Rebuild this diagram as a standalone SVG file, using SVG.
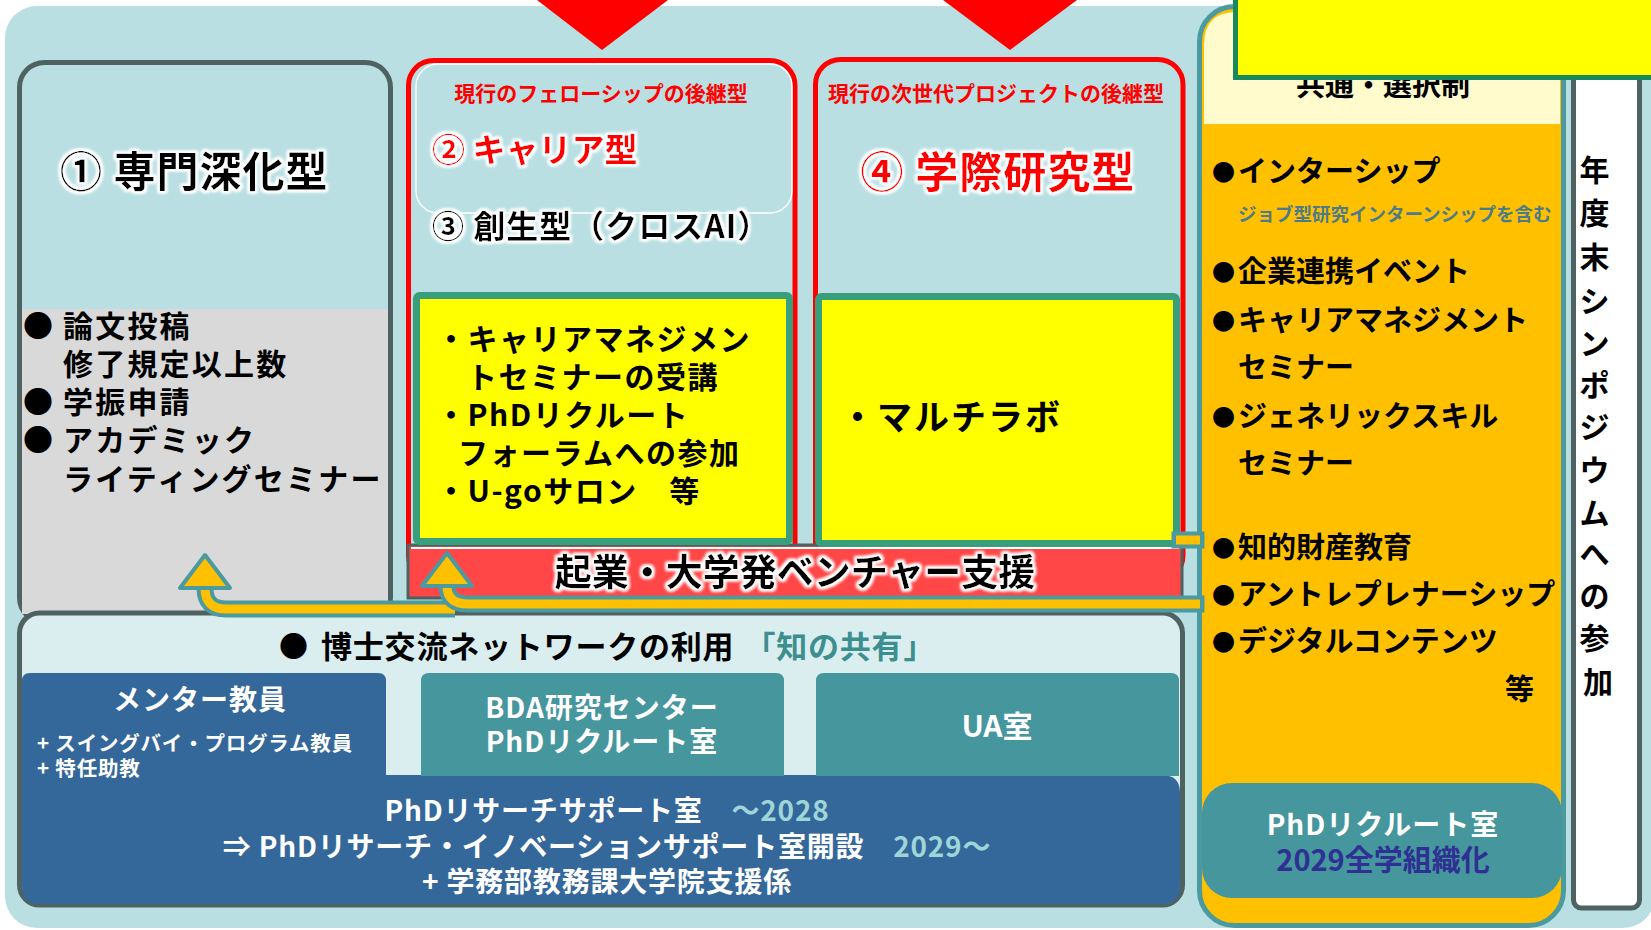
<svg xmlns="http://www.w3.org/2000/svg" width="1651" height="930" viewBox="0 0 1651 930">
<defs>
<style>
text{font-family:'Noto Sans CJK JP','Noto Sans CJK SC',sans-serif;font-weight:700;}
.blk{fill:#000}
.wht{fill:#fff}
.red{fill:#FF0000}
.frame{fill:#B9DFE2;stroke:#4E6262;stroke-width:5}
.redframe{fill:#B9DFE2;stroke:#FF0000;stroke-width:5}
.ybox{fill:#FFFF00;stroke:#389E7C;stroke-width:7}
.sh-o{fill:none;stroke:#4A9AA0;stroke-width:17;stroke-linejoin:round}
.sh-i{fill:none;stroke:#FFC000;stroke-width:9;stroke-linejoin:round}
.head{fill:#FFC000;stroke:#4A9AA0;stroke-width:4;stroke-linejoin:round}
.tri{fill:#FF0000}
</style>
<filter id="glow" x="-10%" y="-40%" width="120%" height="180%">
<feMorphology in="SourceAlpha" operator="dilate" radius="2" result="d"/>
<feGaussianBlur in="d" stdDeviation="1.6" result="b"/>
<feFlood flood-color="#ffffff"/>
<feComposite in2="b" operator="in" result="g"/>
<feMerge><feMergeNode in="g"/><feMergeNode in="g"/><feMergeNode in="SourceGraphic"/></feMerge>
</filter>
</defs>
<rect width="1651" height="930" fill="#fff"/>
<rect id="background" x="5" y="6" width="1650" height="922" rx="32" fill="#B9DFE2"/>

<g id="box1">
<rect class="frame" x="19.5" y="62.5" width="371" height="560" rx="25"/>
<rect x="22" y="309" width="366" height="305" fill="#D9D9D9"/>
<text x="60" y="187" font-size="42" class="blk" filter="url(#glow)" letter-spacing="1">① 専門深化型</text>
<g font-size="30" class="blk" letter-spacing="2.2">
<text x="23" y="337" letter-spacing="0">●</text><text x="63" y="337">論文投稿</text>
<text x="63" y="375">修了規定以上数</text>
<text x="23" y="413" letter-spacing="0">●</text><text x="63" y="413">学振申請</text>
<text x="23" y="451" letter-spacing="0">●</text><text x="63" y="451">アカデミック</text>
<text x="63" y="490">ライティングセミナー</text>
</g>
</g>

<g id="box2">
<rect class="redframe" x="408.5" y="60.5" width="386.5" height="520" rx="25"/>
<rect x="416" y="64" width="376" height="149" rx="22" fill="none" stroke="#fff" stroke-width="1.3"/>
<text x="601" y="101" font-size="21" class="red" text-anchor="middle">現行のフェローシップの後継型</text>
<text x="432" y="162" font-size="33" class="red" filter="url(#glow)">② キャリア型</text>
<text x="432" y="238" font-size="32" class="blk" filter="url(#glow)" letter-spacing="1">③ 創生型（クロスAI）</text>
</g>

<g id="box4">
<rect class="redframe" x="815.5" y="59.5" width="367.5" height="521" rx="25"/>
<text x="996" y="101" font-size="21" class="red" text-anchor="middle">現行の次世代プロジェクトの後継型</text>
<text x="998" y="188" font-size="43" class="red" text-anchor="middle" filter="url(#glow)" letter-spacing="1">④ 学際研究型</text>
</g>

<g id="venture">
<rect x="408" y="545" width="774" height="53" fill="#FF4747" stroke="#4E6262" stroke-width="3"/>
<line x1="411" y1="548" x2="1179" y2="548" stroke="#fff" stroke-width="2"/>
<text x="795" y="586" font-size="37" class="blk" text-anchor="middle" filter="url(#glow)">起業・大学発ベンチャー支援</text>
</g>

<g id="career-box">
<rect class="ybox" x="416.5" y="295.5" width="373" height="246" rx="3"/>
<g font-size="30" class="blk" letter-spacing="1.5">
<text x="436" y="350">・キャリアマネジメン</text>
<text x="467" y="388">トセミナーの受講</text>
<text x="436" y="426">・PhDリクルート</text>
<text x="458" y="464">フォーラムへの参加</text>
<text x="436" y="502">・U-goサロン　等</text>
</g>
</g>

<g id="multilab-box">
<rect class="ybox" x="818.5" y="296.5" width="358" height="247" rx="3"/>
<text x="840" y="430" font-size="35" class="blk" letter-spacing="2">・マルチラボ</text>
</g>

<g id="network">
<rect x="19.5" y="613" width="1163" height="292" rx="20" fill="#DAEEF0" stroke="#4E6262" stroke-width="5"/>
<text x="279" y="657" font-size="29" class="blk">●</text>
<text x="321" y="658" font-size="31" class="blk" letter-spacing="0.8">博士交流ネットワークの利用<tspan dx="10" fill="#3D8F8F">「知の共有」</tspan></text>
</g>

<g id="support-office">
<path d="M22 775 H1162 Q1180 775 1180 793 V886 Q1180 904 1162 904 H40 Q22 904 22 886 Z" fill="#34679A"/>
<g font-size="28" class="wht" text-anchor="middle" letter-spacing="0.8">
<text x="607" y="821">PhDリサーチサポート室　<tspan fill="#9ED5D8">～2028</tspan></text>
<text x="607" y="857">⇒ PhDリサーチ・イノベーションサポート室開設　<tspan fill="#9ED5D8">2029～</tspan></text>
<text x="607" y="892">+ 学務部教務課大学院支援係</text>
</g>
</g>

<g id="mentor">
<path d="M22 781 V681 Q22 673 30 673 H378 Q386 673 386 681 V781 Z" fill="#34679A"/>
<text x="200" y="710" font-size="28" class="wht" text-anchor="middle" letter-spacing="1">メンター教員</text>
<text x="37" y="751" font-size="20.5" class="wht" letter-spacing="0.8">+ スイングバイ・プログラム教員</text>
<text x="37" y="776" font-size="20.5" class="wht" letter-spacing="0.8">+ 特任助教</text>
</g>

<g id="bda">
<path d="M421 776 V681 Q421 673 429 673 H776 Q784 673 784 681 V776 Z" fill="#46969E"/>
<text x="602" y="718" font-size="28" class="wht" text-anchor="middle" letter-spacing="1">BDA研究センター</text>
<text x="602" y="752" font-size="28" class="wht" text-anchor="middle" letter-spacing="1">PhDリクルート室</text>
</g>

<g id="ua">
<path d="M816 776 V681 Q816 673 824 673 H1171 Q1179 673 1179 681 V776 Z" fill="#46969E"/>
<text x="997" y="737" font-size="30" class="wht" text-anchor="middle">UA室</text>
</g>

<g id="common-column">
<rect x="1199.5" y="6.5" width="364" height="919" rx="35" fill="#FFC000" stroke="#4A9AA0" stroke-width="5"/>
<path d="M1204 124 V45 Q1204 12 1237 12 H1560 V124 Z" fill="#FFFBCC"/>
<text x="1383" y="96" font-size="29" class="blk" text-anchor="middle">共通・選択制</text>
<g class="blk">
<text x="1212" y="181" font-size="23">●</text><text x="1238" y="182" font-size="29">インターシップ</text>
<text x="1238" y="221" font-size="18.5" fill="#4D7B88">ジョブ型研究インターンシップを含む</text>
<text x="1212" y="281" font-size="23">●</text><text x="1238" y="282" font-size="29">企業連携イベント</text>
<text x="1212" y="330" font-size="23">●</text><text x="1238" y="331" font-size="29">キャリアマネジメント</text>
<text x="1238" y="378" font-size="29">セミナー</text>
<text x="1212" y="426" font-size="23">●</text><text x="1238" y="427" font-size="29">ジェネリックスキル</text>
<text x="1238" y="474" font-size="29">セミナー</text>
<text x="1212" y="557" font-size="23">●</text><text x="1238" y="558" font-size="29">知的財産教育</text>
<text x="1212" y="604" font-size="23">●</text><text x="1238" y="605" font-size="29">アントレプレナーシップ</text>
<text x="1212" y="651" font-size="23">●</text><text x="1238" y="652" font-size="29">デジタルコンテンツ</text>
<text x="1534" y="700" font-size="29" text-anchor="end">等</text>
</g>
</g>

<g id="recruit-office">
<rect x="1202" y="783" width="360" height="115" rx="30" fill="#46969E"/>
<text x="1383" y="835" font-size="28" class="wht" text-anchor="middle" letter-spacing="1">PhDリクルート室</text>
<text x="1383" y="871" font-size="29" fill="#2E3192" text-anchor="middle">2029全学組織化</text>
</g>

<g id="symposium">
<rect x="1573.5" y="60" width="66" height="848" rx="8" fill="#fff" stroke="#4E6262" stroke-width="5"/>
<text font-size="30" class="blk" text-anchor="middle">
<tspan x="1598" y="181">年</tspan>
<tspan x="1598" y="224">度</tspan>
<tspan x="1598" y="268">末</tspan>
<tspan x="1598" y="312">シ</tspan>
<tspan x="1598" y="354">ン</tspan>
<tspan x="1598" y="396">ポ</tspan>
<tspan x="1598" y="438">ジ</tspan>
<tspan x="1598" y="481">ウ</tspan>
<tspan x="1598" y="524">ム</tspan>
<tspan x="1598" y="565">へ</tspan>
<tspan x="1598" y="607">の</tspan>
<tspan x="1598" y="649">参</tspan>
<tspan x="1598" y="693">加</tspan>
</text>
</g>

<g id="banner-top-right">
<rect x="1235.5" y="-10" width="430" height="87.5" fill="#FFFF00" stroke="#17895A" stroke-width="5"/>
</g>

<g id="connectors">
<polygon class="tri" points="537,0 668,0 602,50"/>
<polygon class="tri" points="943,0 1077,0 1010,50"/>
<path class="sh-o" d="M455 609 H226 Q205 609 205 588" stroke-linecap="butt"/>
<path class="sh-i" d="M455 609 H226 Q205 609 205 588"/>
<polygon class="head" points="205,555 230,588 180,588"/>
<path class="sh-o" d="M1196 604 H468 Q447 604 447 586" stroke-linecap="square"/>
<path class="sh-i" d="M1200 604 H468 Q447 604 447 586"/>
<polygon class="head" points="447,553 472,586 422,586"/>
<path class="sh-o" d="M1180 540 H1196" stroke-width="14" stroke-linecap="square"/>
<path class="sh-i" d="M1176 540 H1200" stroke-width="7"/>
</g>
</svg>
